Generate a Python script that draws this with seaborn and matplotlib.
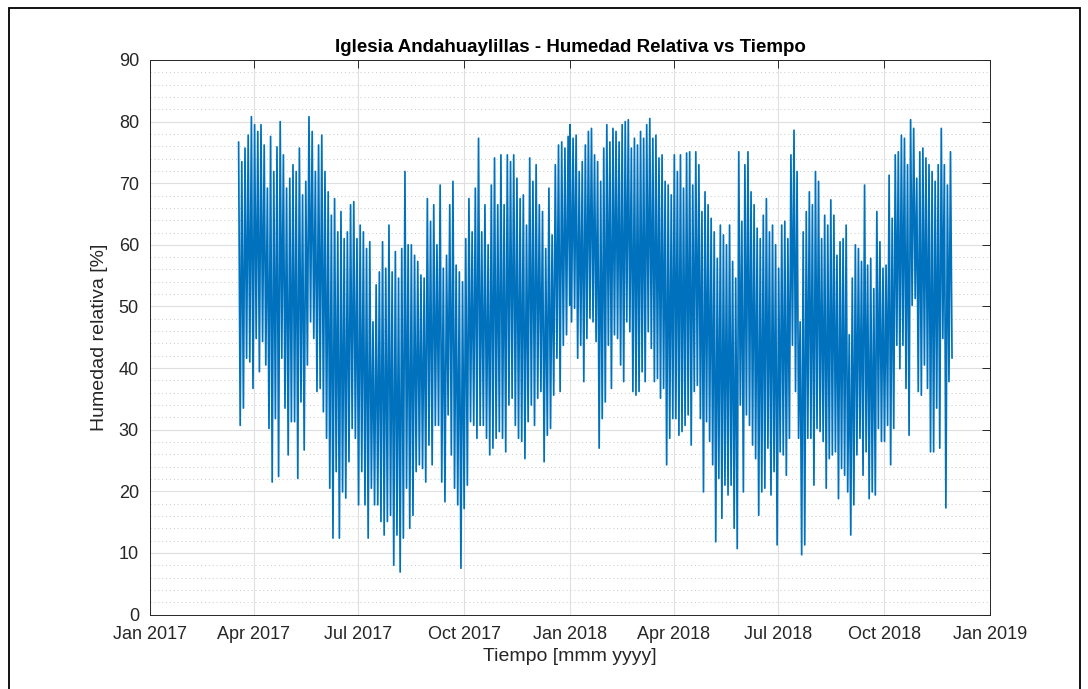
import numpy as np
import pandas as pd
import matplotlib
matplotlib.use("Agg")
import matplotlib.pyplot as plt
import matplotlib.dates as mdates
from matplotlib.ticker import MultipleLocator
from matplotlib.patches import Rectangle
import seaborn as sns

# Relative humidity envelope (upper / lower excursions), sampled every ~2.7 days
hr_max_2017 = [
    76.7, 73.5, 75.7, 77.8, 80.8, 79.5, 78.4, 79.5, 76.2, 69.2, 77.6, 71.9, 75.9, 80.0,
    74.6, 69.2, 70.8, 73.0, 71.9, 75.7, 68.1, 70.3, 80.8, 78.4, 71.9, 76.2, 77.8,
    71.9, 68.6, 64.8, 67.5, 62.1, 65.4, 61.0, 62.1, 66.5, 67.0, 61.0, 63.2, 62.1, 59.4,
    60.5, 47.5, 53.5, 55.6, 60.5, 56.2, 63.2, 55.6, 58.9, 54.6, 59.4, 71.9, 60.0,
    60.0, 58.3, 57.3, 55.1, 54.6, 67.5, 63.8, 66.5, 60.0, 69.7, 56.2, 58.3, 66.5, 70.3,
    56.7, 55.6, 54.0, 61.0, 67.5, 62.1, 69.2, 77.3, 62.1, 66.5, 60.0, 69.7, 74.1, 66.5, 74.6,
    66.5, 74.6, 73.5, 74.6, 70.8, 67.5, 68.1, 63.2, 74.1, 70.3, 73.0, 66.5, 65.4, 59.4,
    69.2, 61.6, 73.0, 76.2, 76.7, 75.7, 77.6,
]
hr_min_2017 = [
    30.7, 33.5, 41.6, 41.0, 36.7, 44.8, 39.4, 44.3, 40.5, 30.2, 21.5, 31.8, 22.4, 41.6,
    33.5, 25.9, 31.3, 31.3, 22.1, 34.5, 26.7, 40.5, 47.5, 44.8, 36.2, 36.7, 32.9,
    28.6, 20.5, 12.4, 23.2, 12.4, 19.9, 18.9, 24.8, 30.2, 28.6, 17.8, 23.2, 17.8, 12.4,
    20.5, 17.8, 17.8, 15.1, 12.9, 15.1, 16.1, 8.0, 12.9, 6.9, 12.4, 20.5, 14.0,
    16.1, 23.2, 24.3, 23.7, 21.5, 27.5, 24.3, 30.7, 30.7, 21.5, 18.3, 32.4, 25.9, 20.5,
    17.8, 7.5, 17.2, 21.0, 31.3, 30.7, 28.6, 30.7, 30.7, 28.6, 25.9, 27.0, 28.6, 29.7, 28.6,
    26.4, 34.0, 35.1, 30.7, 28.6, 28.1, 25.3, 31.3, 34.0, 30.7, 35.1, 36.2, 24.8, 29.1,
    30.2, 35.6, 41.6, 36.2, 43.7, 45.4, 50.2,
]
hr_max_2018 = [
    79.5, 77.3, 77.8, 71.9, 73.5, 76.2, 78.4, 78.9, 74.6,
    73.5, 70.3, 75.7, 79.5, 76.7, 78.9, 78.4, 76.7, 79.5, 80.0, 80.3, 75.7, 77.3, 76.2,
    78.4, 77.3, 79.5, 80.5, 77.3, 77.8, 74.1, 74.6, 70.3, 69.7, 68.1, 74.6,
    71.9, 74.6, 69.2, 74.9, 75.1, 69.7, 75.1, 73.0, 65.4, 68.6, 66.5, 64.3, 62.1, 57.8,
    63.2, 61.6, 60.0, 63.2, 57.3, 54.6, 75.1, 63.8, 73.0, 75.1, 68.6, 66.5, 62.7, 61.0, 64.8, 67.5,
    62.1, 63.2, 60.0, 56.2, 63.2, 63.8, 61.0, 74.6, 78.6, 71.9, 47.5, 62.1, 65.4, 68.6,
    66.5, 71.9, 70.3, 61.0, 64.8, 63.2, 67.3, 64.8, 58.3, 60.5, 61.0, 63.2, 45.4, 54.6, 60.0, 59.4,
    57.3, 69.7, 56.7, 57.8, 52.9, 65.4, 60.5, 56.2, 56.7, 71.3, 64.3, 74.6, 75.1, 77.8,
    77.3, 73.0, 80.3, 78.9, 70.8, 75.1, 75.7, 74.1, 73.0, 71.9, 70.3, 73.0, 78.9, 73.0, 69.7, 75.1,
]
hr_min_2018 = [
    47.5, 49.7, 41.6, 43.7, 37.8, 44.8, 48.1, 47.5, 44.3,
    27.0, 31.8, 34.5, 43.7, 36.7, 45.4, 44.8, 40.5, 37.8, 47.5, 45.9, 36.2, 35.6, 36.2,
    39.4, 37.8, 45.9, 43.2, 37.8, 38.3, 35.1, 36.7, 24.3, 28.6, 31.8, 31.8,
    29.1, 29.7, 30.7, 32.4, 27.5, 36.2, 37.2, 31.8, 19.9, 31.3, 28.1, 24.3, 11.8, 22.1,
    15.6, 21.0, 19.4, 21.0, 14.0, 10.7, 34.0, 19.9, 32.4, 30.7, 27.5, 25.3, 16.1, 19.9, 20.5, 27.0,
    19.4, 23.2, 11.3, 26.4, 25.9, 22.6, 28.6, 43.7, 36.2, 28.6, 9.7, 11.3, 28.6, 28.6,
    21.0, 30.2, 29.7, 28.1, 20.5, 25.3, 25.9, 26.4, 18.8, 23.7, 22.6, 19.9, 12.9, 17.8, 25.9, 28.6,
    22.6, 26.4, 18.8, 19.9, 19.4, 30.2, 28.1, 28.1, 30.7, 24.3, 30.2, 43.7, 39.9, 43.7,
    36.7, 29.1, 50.2, 51.3, 36.2, 35.6, 40.5, 36.7, 26.4, 26.4, 33.5, 27.0, 44.8, 17.3, 37.8, 41.6,
]

title = "Iglesia Andahuaylillas - Humedad Relativa vs Tiempo"
xlabel = "Tiempo [mmm yyyy]"
ylabel = "Humedad relativa [%]"
tick_dates = pd.date_range("2017-01-01", "2019-01-01", freq="QS")


def interleave(hi, lo):
    out = np.empty(2 * len(hi))
    out[0::2] = hi
    out[1::2] = lo
    return out


t2017 = pd.date_range("2017-03-19", "2017-12-31 18:00", periods=2 * len(hr_max_2017))
t2018 = pd.date_range("2018-01-01", "2018-11-29", periods=2 * len(hr_max_2018))
df = pd.DataFrame({
    "Fecha": np.concatenate([t2017.values, t2018.values]),
    "HR": np.concatenate([interleave(hr_max_2017, hr_min_2017),
                          interleave(hr_max_2018, hr_min_2018)]),
})

sns.set_style("white")
plt.rcParams["font.family"] = ["Liberation Sans", "DejaVu Sans"]

fig = plt.figure(figsize=(10.88, 6.89), dpi=100)
ax = fig.add_axes([150 / 1088, 1 - 614.5 / 689, 840 / 1088, 554.5 / 689])

sns.lineplot(data=df, x="Fecha", y="HR", estimator=None, sort=False,
             color="#0072BD", linewidth=1.25, ax=ax)

ax.set_xlim(tick_dates[0], tick_dates[-1])
ax.set_ylim(0, 90)
ax.set_xticks(tick_dates)
ax.xaxis.set_major_formatter(mdates.DateFormatter("%b %Y"))
ax.yaxis.set_major_locator(MultipleLocator(10))
ax.yaxis.set_minor_locator(MultipleLocator(2))

ax.grid(True, which="major", color="#dfdfdf", linewidth=0.8)
ax.grid(True, which="minor", axis="y", color="#c8c8c8", linestyle=(0, (1, 3)), linewidth=0.7)
ax.set_axisbelow(True)

ax.tick_params(which="major", direction="in", top=True, right=True, length=6,
               width=0.7, color="#262626", labelcolor="#262626", labelsize=13, pad=8)
ax.tick_params(which="minor", length=0)
for sp in ax.spines.values():
    sp.set_color("#262626")
    sp.set_linewidth(0.7)

ax.set_title(title, fontsize=13.5, fontweight="bold", color="black", pad=6)
ax.set_xlabel(xlabel, fontsize=14, color="#262626", labelpad=4)
ax.set_ylabel(ylabel, fontsize=14, color="#262626", labelpad=8)

fig.add_artist(Rectangle((9 / 1088, -0.05), 1071 / 1088, 1.05 - 8 / 689,
                         transform=fig.transFigure, fill=False,
                         edgecolor="black", linewidth=1.3))

fig.savefig("out.png", dpi=100)
